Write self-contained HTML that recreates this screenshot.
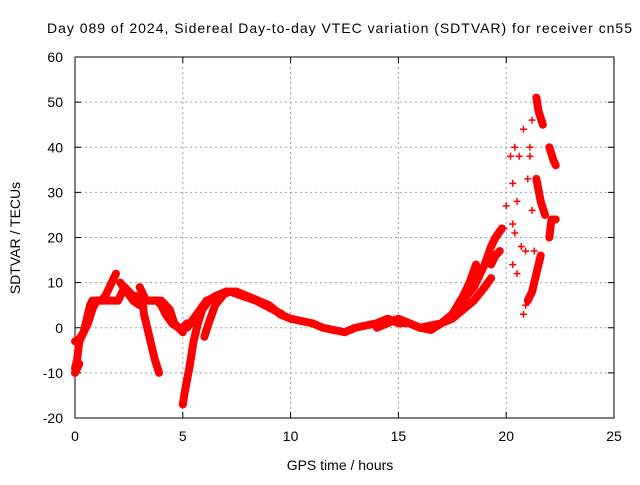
<!DOCTYPE html>
<html><head><meta charset="utf-8"><style>
body{margin:0;background:#fff;}
svg text{font-family:"Liberation Sans",sans-serif;font-size:14px;fill:#000;}
</style></head><body>
<svg id="chart" width="640" height="480" xmlns="http://www.w3.org/2000/svg">
<text x="47" y="33" textLength="585" lengthAdjust="spacing">Day 089 of 2024, Sidereal Day-to-day VTEC variation (SDTVAR) for receiver cn55</text>
<g id="grid"></g><g id="axes"></g><g id="marks"></g>
<text x="340" y="470" text-anchor="middle">GPS time / hours</text>
<text transform="translate(20,238) rotate(-90)" text-anchor="middle">SDTVAR / TECUs</text>
</svg>
<script>
const xTicks=[0,5,10,15,20,25];
const yTicks=[-20,-10,0,10,20,30,40,50,60];
const trackA=[[0,-9],[0.1,-7],[0.2,-3],[0.3,-2],[0.4,-1],[0.5,1],[0.6,3],[0.7,5],[0.8,6],[0.9,6],[1.0,6],[1.2,6],[1.4,7],[1.5,8],[1.7,10],[1.9,12]];
const trackB=[[0,-3],[0.2,-2.5],[0.4,-1],[0.6,1],[0.8,4],[1.0,6],[1.3,6],[1.6,6],[2.0,6],[2.2,8],[2.3,9],[2.5,8],[2.7,7],[3.0,7],[3.3,6],[3.5,6],[3.8,6],[4.0,5],[4.2,3],[4.5,1],[4.8,0],[5.0,0],[5.2,1]];
const trackC=[[0,-10],[0.1,-9],[0.2,-8]];
const trackD=[[2.1,10],[2.4,8],[2.7,6],[3.0,5]];
const trackE=[[3.1,7],[3.2,3],[3.3,1],[3.5,-3],[3.7,-7],[3.9,-10]];
const trackF=[[3.0,9],[3.3,6],[3.7,6],[4.0,6],[4.4,4],[4.6,1],[4.8,0],[5.0,-1]];
const trackG=[[5.0,-17],[5.1,-14],[5.3,-9],[5.5,-3],[5.7,1],[5.9,4],[6.2,6],[6.5,7],[7.0,8],[7.5,8],[8.0,7],[8.5,6],[9.0,5],[9.5,3],[10.0,2],[10.5,1.5],[11.0,1],[11.5,0],[12.0,-0.5],[12.5,-1],[13.0,0],[13.5,0.5],[14.0,1],[14.5,2],[15.0,1],[15.5,1],[16.0,0],[16.5,0.5],[17.0,1],[17.5,3],[18.0,6],[18.5,9],[19.0,14],[19.3,18],[19.5,20],[19.8,22]];
const trackH=[[5.2,0],[5.5,2],[5.8,4],[6.1,6],[6.6,7],[7.2,8],[7.8,7],[8.4,6],[9.0,4.5],[9.6,3]];
const trackH2=[[6.0,-2],[6.2,1],[6.5,5],[7.0,8]];
const trackI=[[14,0],[15,2],[16,0],[16.5,-0.5],[17,1],[17.5,2],[18,4],[18.5,6],[19,9],[19.3,11]];
const trackJ=[[17.5,3],[18,7],[18.3,10],[18.6,14]];
const trackK=[[19.3,14],[19.5,16],[19.7,17]];
const trackL=[[21.4,51],[21.5,48],[21.7,45]];
const trackM=[[22.0,40],[22.2,37],[22.3,36]];
const trackN=[[21.4,33],[21.6,28],[21.8,25]];
const trackO=[[22.0,20],[22.1,24],[22.3,24]];
const trackP=[[21.0,6],[21.2,8],[21.4,12],[21.6,16]];
const scatter=[[19.9,22],[20.0,27],[20.2,38],[20.3,32],[20.4,40],[20.5,28],[20.3,23],[20.4,21],[20.5,12],[20.7,18],[20.8,44],[20.8,3],[20.9,5],[21.0,33],[21.1,40],[21.2,46],[21.3,17],[21.2,26],[20.3,14],[20.6,38],[20.9,17],[21.1,38]];
const tracks=[trackA,trackB,trackC,trackD,trackE,trackF,trackG,trackH,trackH2,trackI,trackJ,trackK,trackL,trackM,trackN,trackO,trackP];
const NS="http://www.w3.org/2000/svg";
const L=75,R=614,T=57,B=418;
const sx=v=>L+(v-0)/(25-0)*(R-L);
const sy=v=>B-(v+20)/80*(B-T);
function mk(t,a){const e=document.createElementNS(NS,t);for(const k in a)e.setAttribute(k,a[k]);return e;}
const grid=document.getElementById('grid'),axes=document.getElementById('axes'),marks=document.getElementById('marks');
xTicks.forEach(v=>{
 if(v>0&&v<25){const g=mk('line',{x1:sx(v),x2:sx(v),y1:T,y2:B,stroke:'#a0a0a0','stroke-dasharray':'2,3'});
 grid.appendChild(g);}
 const t=mk('text',{x:sx(v),y:B+23,'text-anchor':'middle'});t.textContent=v;
 axes.appendChild(t);
 axes.appendChild(mk('line',{x1:sx(v),x2:sx(v),y1:B,y2:B-6,stroke:'#000'}));
 axes.appendChild(mk('line',{x1:sx(v),x2:sx(v),y1:T,y2:T+6,stroke:'#000'}));
});
yTicks.forEach(v=>{
 if(v>-20&&v<60){const g=mk('line',{x1:L,x2:R,y1:sy(v),y2:sy(v),stroke:'#a0a0a0','stroke-dasharray':'2,3'});
 grid.appendChild(g);}
 const t=mk('text',{x:L-12,y:sy(v)+5,'text-anchor':'end'});t.textContent=v;
 axes.appendChild(t);
 axes.appendChild(mk('line',{x1:L,x2:L+6,y1:sy(v),y2:sy(v),stroke:'#000'}));
 axes.appendChild(mk('line',{x1:R,x2:R-6,y1:sy(v),y2:sy(v),stroke:'#000'}));
});
const frame=mk('rect',{x:L,y:T,width:R-L,height:B-T,fill:'none',stroke:'#000'});
axes.appendChild(frame);
function plus(x,y){const p=mk('path',{d:`M${sx(x)-3.5},${sy(y)}h7M${sx(x)},${sy(y)-3.5}v7`,stroke:'#f00','stroke-width':1.5});
 marks.appendChild(p);}
tracks.forEach(tr=>{
 const pl=mk('polyline',{points:tr.map(p=>sx(p[0])+','+sy(p[1])).join(' '),fill:'none',stroke:'#f00','stroke-width':8,'stroke-linejoin':'round','stroke-linecap':'round'});
 marks.appendChild(pl);
 tr.forEach(p=>plus(p[0],p[1]));
});
scatter.forEach(p=>plus(p[0],p[1]));
</script>
</body></html>
